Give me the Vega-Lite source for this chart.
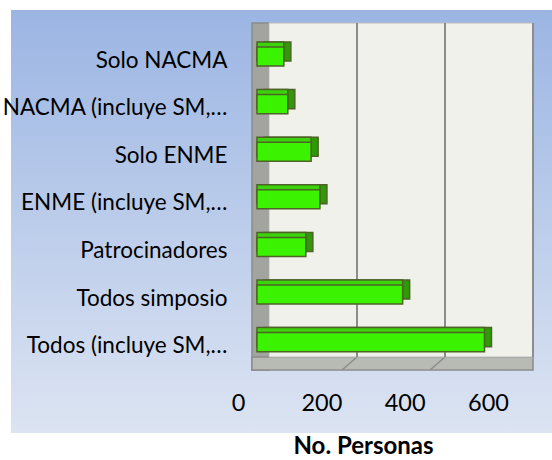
{
  "$schema": "https://vega.github.io/schema/vega-lite/v6.json",
  "width": 541,
  "height": 423,
  "autosize": {"type": "none"},
  "padding": {"left": 11, "top": 10, "right": 0, "bottom": 27},
  "background": "#ffffff",
  "view": {
    "fill": {"gradient": "linear", "x1": 0, "y1": 0, "x2": 0, "y2": 1,
      "stops": [{"offset": 0, "color": "#9BB5E3"}, {"offset": 1, "color": "#DCE4F2"}]},
    "stroke": null
  },
  "resolve": {"axis": {"x": "independent", "y": "independent"}},
  "layer": [
    {
      "data": {"values": [{}]},
      "mark": {"type": "rect", "fill": "#A2A49F", "stroke": "#8C8C8C", "strokeWidth": 1.5, "xOffset": -5, "x2Offset": 12, "yOffset": -33.5, "y2Offset": 27.9},
      "encoding": {
        "x": {"datum": 0, "type": "quantitative", "axis": null, "scale": {"domain": [0, 600], "range": [246, 510], "nice": false}},
        "x2": {"datum": 0},
        "y": {"datum": "Solo NACMA", "type": "nominal", "axis": null,
          "scale": {"domain": ["Solo NACMA", "NACMA (incluye SM,…", "Solo ENME", "ENME (incluye SM,…", "Patrocinadores", "Todos simposio", "Todos (incluye SM,…"],
            "range": [13, 360], "paddingInner": 0.6, "paddingOuter": 0.445, "align": 0.567}},
        "y2": {"datum": "Todos (incluye SM,…"}
      }
    },
    {
      "data": {"values": [{}]},
      "mark": {"type": "rect", "fill": "#B8BAB4", "stroke": "#8C8C8C", "strokeWidth": 1.5, "xOffset": -5, "x2Offset": 12, "yOffset": 110.1, "y2Offset": 27.9},
      "encoding": {
        "x": {"datum": 0, "type": "quantitative", "axis": null},
        "x2": {"datum": 600},
        "y": {"datum": "Patrocinadores", "type": "nominal", "axis": null},
        "y2": {"datum": "Todos (incluye SM,…"}
      }
    },
    {
      "data": {"values": [{}]},
      "mark": {"type": "rule", "stroke": "#8C8C8C", "strokeWidth": 1.5, "xOffset": 12, "x2Offset": -3, "yOffset": 110.1, "y2Offset": 27.9},
      "encoding": {
        "x": {"datum": 200, "type": "quantitative", "axis": null},
        "x2": {"datum": 200},
        "y": {"datum": "Patrocinadores", "type": "nominal", "axis": null},
        "y2": {"datum": "Todos (incluye SM,…"}
      }
    },
    {
      "data": {"values": [{}]},
      "mark": {"type": "rule", "stroke": "#8C8C8C", "strokeWidth": 1.5, "xOffset": 12, "x2Offset": -3, "yOffset": 110.1, "y2Offset": 27.9},
      "encoding": {
        "x": {"datum": 400, "type": "quantitative", "axis": null},
        "x2": {"datum": 400},
        "y": {"datum": "Patrocinadores", "type": "nominal", "axis": null},
        "y2": {"datum": "Todos (incluye SM,…"}
      }
    },
    {
      "data": {"values": [{}]},
      "mark": {"type": "rect", "fill": "#EFF1EA", "stroke": "#BDBDBD", "strokeWidth": 1, "xOffset": 12, "x2Offset": 12, "yOffset": -33.5, "y2Offset": 14.9},
      "encoding": {
        "x": {"datum": 0, "type": "quantitative", "axis": null},
        "x2": {"datum": 600},
        "y": {"datum": "Solo NACMA", "type": "nominal", "axis": null},
        "y2": {"datum": "Todos (incluye SM,…"}
      }
    },
    {
      "data": {"values": [{}]},
      "mark": {"type": "rule", "stroke": "#8C8C8C", "strokeWidth": 2, "xOffset": 12, "x2Offset": 12, "yOffset": -33.5, "y2Offset": 14.9},
      "encoding": {
        "x": {"datum": 200, "type": "quantitative", "axis": null},
        "y": {"datum": "Solo NACMA", "type": "nominal", "axis": null},
        "y2": {"datum": "Todos (incluye SM,…"}
      }
    },
    {
      "data": {"values": [{}]},
      "mark": {"type": "rule", "stroke": "#8C8C8C", "strokeWidth": 2, "xOffset": 12, "x2Offset": 12, "yOffset": -33.5, "y2Offset": 14.9},
      "encoding": {
        "x": {"datum": 400, "type": "quantitative", "axis": null},
        "y": {"datum": "Solo NACMA", "type": "nominal", "axis": null},
        "y2": {"datum": "Todos (incluye SM,…"}
      }
    },
    {
      "data": {"values": [{}]},
      "mark": {"type": "rule", "stroke": "#8C8C8C", "strokeWidth": 2, "xOffset": 12, "x2Offset": 12, "yOffset": -33.5, "y2Offset": 14.9},
      "encoding": {
        "x": {"datum": 600, "type": "quantitative", "axis": null},
        "y": {"datum": "Solo NACMA", "type": "nominal", "axis": null},
        "y2": {"datum": "Todos (incluye SM,…"}
      }
    },
    {
      "data": {"values": [
        {"categoria": "Solo NACMA", "personas": 61},
        {"categoria": "NACMA (incluye SM,…", "personas": 70},
        {"categoria": "Solo ENME", "personas": 123},
        {"categoria": "ENME (incluye SM,…", "personas": 143},
        {"categoria": "Patrocinadores", "personas": 111},
        {"categoria": "Todos simposio", "personas": 331},
        {"categoria": "Todos (incluye SM,…", "personas": 517}
      ]},
      "encoding": {
        "y": {
          "field": "categoria", "type": "nominal", "sort": null,
          "axis": {"orient": "left", "offset": -246, "domain": false, "ticks": false, "grid": false,
            "labelPadding": 30, "labelFont": "Lato", "labelFontSize": 22.5, "labelColor": "#000000",
            "labelOffset": 4, "labelLimit": 0, "title": null}
        },
        "x": {
          "field": "personas", "type": "quantitative",
          "axis": {"orient": "bottom", "offset": -45, "values": [0, 200, 400, 600], "domain": false, "ticks": false, "grid": false,
            "labelFont": "Lato", "labelFontSize": 23.5, "labelColor": "#000000", "labelPadding": 3, "labelFlush": false,
            "labelOffset": {"expr": "-19 - datum.value * 14 / 600"},
            "title": "No. Personas", "titleFont": "Lato", "titleFontSize": 24, "titleFontWeight": "bold", "titleColor": "#000000",
            "titleX": 352, "titleY": 65, "titleBaseline": "alphabetic", "titleAlign": "center", "titleAnchor": "middle"}
        }
      },
      "resolve": {"axis": {"x": "shared", "y": "shared"}},
      "layer": [
        {"mark": {"type": "bar", "fill": "#2E9A05", "stroke": "#4F6228", "strokeWidth": 1.5, "xOffset": 7, "x2Offset": 7, "yOffset": -5}},
        {"mark": {"type": "bar", "fill": "#3BD40A", "stroke": "#4F6228", "strokeWidth": 1.5, "xOffset": 0, "x2Offset": 7, "yOffset": -5}},
        {"mark": {"type": "bar", "fill": "#3BF200", "stroke": "#4F6228", "strokeWidth": 1.5}}
      ]
    }
  ]
}
